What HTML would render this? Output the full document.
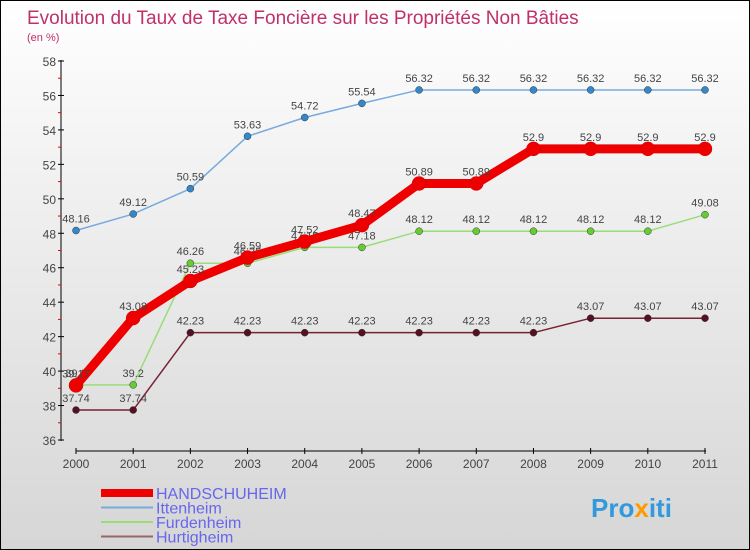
<!DOCTYPE html>
<html><head><meta charset="utf-8"><style>
body{margin:0}
#c{width:748px;height:548px;border:1px solid #000;background:linear-gradient(#fff,#f2f2f2 30%,#d6d6d6);position:relative;font-family:"Liberation Sans",sans-serif;overflow:hidden}
</style></head><body>
<div id="c">
<svg width="748" height="548" style="position:absolute;left:0;top:0" id="svg">
<text x="26" y="23" font-size="19" fill="#c0306a">Evolution du Taux de Taxe Foncière sur les Propriétés Non Bâties</text>
<text x="26" y="40" font-size="11" fill="#c0306a">(en %)</text>
<g id="g"></g>
<text x="590" y="516" font-size="26" font-weight="bold" fill="#3399dd">Pro<tspan fill="#ff9900">x</tspan>iti</text>
</svg>
</div>
<script>
const years=["2000","2001","2002","2003","2004","2005","2006","2007","2008","2009","2010","2011"];
const yTicks=[36,38,40,42,44,46,48,50,52,54,56,58];
const names=["HANDSCHUHEIM","Ittenheim","Furdenheim","Hurtigheim"];
const handschuheim=[39.17,43.08,45.23,46.59,47.52,48.47,50.89,50.89,52.9,52.9,52.9,52.9];
const ittenheim=[48.16,49.12,50.59,53.63,54.72,55.54,56.32,56.32,56.32,56.32,56.32,56.32];
const furdenheim=[39.2,39.2,46.26,46.26,47.18,47.18,48.12,48.12,48.12,48.12,48.12,49.08];
const hurtigheim=[37.74,37.74,42.23,42.23,42.23,42.23,42.23,42.23,42.23,43.07,43.07,43.07];
const NS="http://www.w3.org/2000/svg",g=document.getElementById('g');
const X=i=>75+i*(704-75)/(years.length-1);
const Y=v=>439-(v-36)*(379/22);
function mk(t,a,p){const e=document.createElementNS(NS,t);for(const k in a)e.setAttribute(k,a[k]);(p||g).appendChild(e);return e;}
let e=mk('line',{x1:60,y1:59,x2:60,y2:440,stroke:'#000'});


e=mk('line',{x1:75,y1:450,x2:705,y2:450,stroke:'#000'});


yTicks.forEach((t,i)=>{mk('line',{x1:57,y1:Y(t),x2:63,y2:Y(t),stroke:'#000'});
 if(i<yTicks.length-1)mk('line',{x1:57,y1:Y(t+1),x2:60,y2:Y(t+1),stroke:'#e00'});
 const tx=mk('text',{x:55,y:Y(t)+5,'font-size':12,fill:'#444','text-anchor':'end'});tx.textContent=t;
 
 });
years.forEach((y,i)=>{mk('line',{x1:X(i),y1:447,x2:X(i),y2:453,stroke:'#000'});
 const tx=mk('text',{x:X(i),y:467,'font-size':12,fill:'#444','text-anchor':'middle'});tx.textContent=y;
 
 });
const series=[[hurtigheim,'#772233','#551122',1.5,3.5],[furdenheim,'#99dd77','#66cc33',1.5,3.5],[ittenheim,'#77aadd','#3388cc',1.5,3.5],[handschuheim,'#ee0000','#ee0000',9,7]];
const ln=['hurtigheim','furdenheim','ittenheim','handschuheim'];
series.forEach((s,si)=>{const d=s[0];
 const p=mk('polyline',{points:d.map((v,i)=>X(i)+','+Y(v)).join(' '),fill:'none',stroke:s[1],'stroke-width':s[3],'stroke-linejoin':'round'});
 
 
 d.forEach((v,i)=>{const c=mk('circle',{cx:X(i),cy:Y(v),r:s[4],fill:s[2],stroke:si==3?'#cc0000':'#333','stroke-width':0.5});
  
  
  const t=mk('text',{x:X(i),y:Y(v)-8,'font-size':11,fill:'#444','text-anchor':'middle'});t.textContent=v;
  
  });});
const leg=[['#ee0000',8],['#77aadd',2],['#99dd77',2],['#996666',2]];
names.forEach((n,i)=>{const y=492+i*14.5;
 const l=mk('line',{x1:100,y1:y,x2:152,y2:y,stroke:leg[i][0],'stroke-width':leg[i][1]});
 
 
 const t=mk('text',{x:155,y:y+6,'font-size':16,fill:'#6666ee'});t.textContent=n;
 
 });
</script>
</body></html>
